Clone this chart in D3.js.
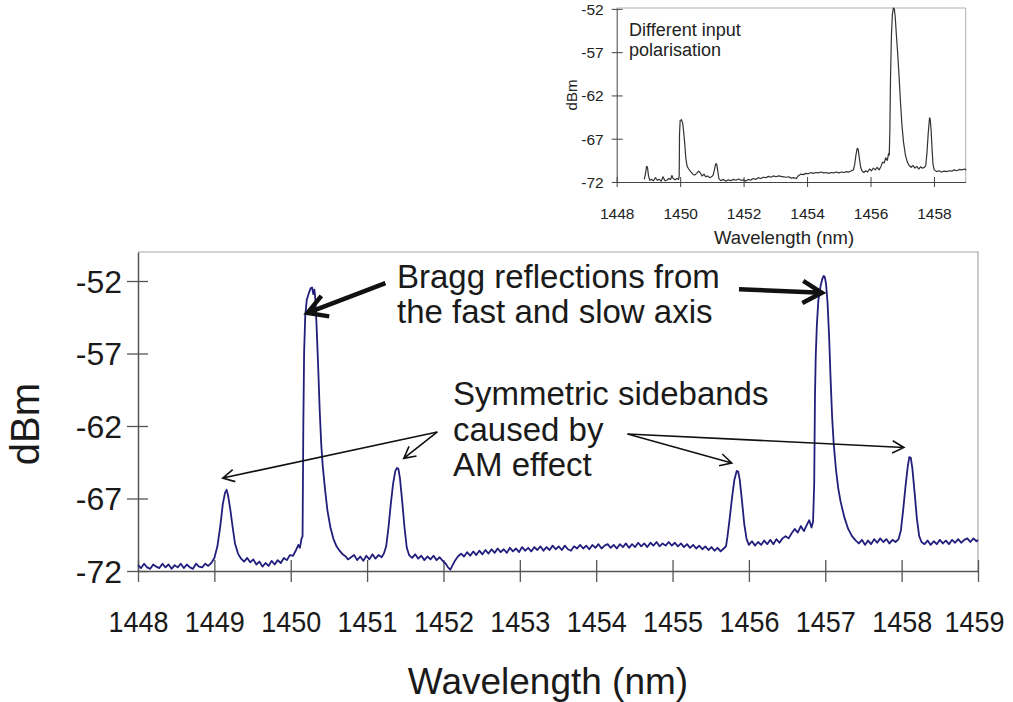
<!DOCTYPE html>
<html>
<head>
<meta charset="utf-8">
<script src="https://cdn.jsdelivr.net/npm/d3@7"></script>
<style>
  body { margin: 0; background: #fff; }
  svg { display: block; font-family: Arial, "Liberation Sans", sans-serif; }
</style>
</head>
<body>
<div id="chart"></div>
<script>
// tick values
const mainXTicks = [1448, 1449, 1450, 1451, 1452, 1453, 1454, 1455, 1456, 1457, 1458, 1459];
const mainYTicks = [-52, -57, -62, -67, -72];
const insetXTicks = [1448, 1450, 1452, 1454, 1456, 1458];
const insetYTicks = [-52, -57, -62, -67, -72];

// main trace, [wavelength nm, dBm]
const mainTrace = [
  [1448.00,-71.60],[1448.04,-71.80],[1448.08,-71.50],[1448.12,-71.75],[1448.16,-71.85],[1448.20,-71.55],
  [1448.24,-71.70],[1448.28,-71.80],[1448.32,-71.50],[1448.36,-71.75],[1448.40,-71.55],[1448.44,-71.85],
  [1448.48,-71.60],[1448.52,-71.75],[1448.56,-71.50],[1448.60,-71.80],[1448.64,-71.55],[1448.68,-71.75],
  [1448.72,-71.85],[1448.76,-71.50],[1448.80,-71.70],[1448.84,-71.75],[1448.88,-71.50],[1448.92,-71.65],
  [1448.96,-71.45],
  [1449.00,-71.1],[1449.04,-70.3],[1449.08,-68.8],[1449.11,-67.4],[1449.14,-66.6],[1449.16,-66.4],
  [1449.18,-66.8],[1449.21,-67.8],[1449.24,-69.0],[1449.27,-70.1],[1449.31,-70.8],[1449.35,-71.15],
  [1449.39,-71.35],[1449.43,-71.10],[1449.47,-71.40],[1449.51,-71.20],[1449.55,-71.55],[1449.59,-71.35],
  [1449.63,-71.70],[1449.67,-71.45],[1449.71,-71.65],[1449.75,-71.30],[1449.79,-71.55],[1449.83,-71.25],
  [1449.87,-71.45],[1449.91,-71.10],[1449.95,-71.25],[1449.99,-70.90],[1450.03,-70.95],[1450.07,-70.55],
  [1450.10,-70.20],[1450.12,-70.40],[1450.14,-69.80],[1450.155,-69.60],
  [1450.165,-62.0],[1450.175,-57.0],[1450.19,-54.4],[1450.21,-53.3],[1450.24,-52.8],[1450.26,-52.5],
  [1450.28,-52.45],[1450.295,-52.9],[1450.31,-52.6],[1450.325,-53.4],[1450.34,-55.3],[1450.36,-58.0],
  [1450.38,-61.0],[1450.40,-63.3],[1450.42,-64.8],[1450.45,-66.4],[1450.48,-67.8],[1450.52,-69.0],
  [1450.56,-69.8],[1450.60,-70.3],[1450.64,-70.6],[1450.68,-70.85],[1450.72,-71.0],[1450.75,-71.2],
  [1450.79,-71.05],[1450.83,-70.90],[1450.87,-71.25],[1450.91,-71.00],[1450.95,-71.30],[1450.99,-70.95],
  [1451.03,-71.20],[1451.07,-70.85],[1451.11,-71.15],[1451.15,-70.90],[1451.19,-71.05],[1451.22,-70.80],
  [1451.25,-70.3],[1451.28,-69.0],[1451.31,-67.4],[1451.34,-66.0],[1451.37,-65.1],[1451.39,-64.9],
  [1451.41,-64.95],[1451.43,-65.6],[1451.46,-67.2],[1451.49,-69.0],[1451.52,-70.4],[1451.55,-70.9],
  [1451.59,-71.10],[1451.63,-70.85],[1451.67,-71.15],[1451.71,-70.95],[1451.75,-71.25],[1451.79,-71.00],
  [1451.83,-71.20],[1451.87,-70.95],[1451.91,-71.25],[1451.95,-71.05],[1451.99,-71.30],[1452.03,-71.50],
  [1452.06,-71.75],[1452.09,-71.90],[1452.12,-71.60],[1452.15,-71.30],[1452.19,-71.00],[1452.23,-70.80],
  [1452.27,-71.00],[1452.31,-70.70],[1452.35,-70.95],[1452.39,-70.65],[1452.43,-70.90],[1452.47,-70.60],
  [1452.51,-70.85],[1452.55,-70.55],[1452.59,-70.80],[1452.63,-70.50],[1452.67,-70.75],[1452.71,-70.45],
  [1452.75,-70.70],[1452.79,-70.50],[1452.83,-70.75],[1452.87,-70.40],[1452.91,-70.65],[1452.95,-70.45],
  [1452.99,-70.70],[1453.03,-70.35],[1453.07,-70.60],[1453.11,-70.40],[1453.15,-70.65],[1453.19,-70.35],
  [1453.23,-70.55],[1453.27,-70.30],[1453.31,-70.60],[1453.35,-70.35],[1453.39,-70.55],[1453.43,-70.25],
  [1453.47,-70.50],[1453.51,-70.30],[1453.55,-70.55],[1453.59,-70.25],[1453.63,-70.50],[1453.67,-70.60],
  [1453.71,-70.30],[1453.75,-70.45],[1453.79,-70.20],[1453.83,-70.45],[1453.87,-70.25],[1453.91,-70.50],
  [1453.95,-70.20],[1453.99,-70.40],[1454.03,-70.15],[1454.07,-70.45],[1454.11,-70.25],[1454.15,-70.15],
  [1454.19,-70.40],[1454.23,-70.20],[1454.27,-70.45],[1454.31,-70.15],[1454.35,-70.35],[1454.39,-70.10],
  [1454.43,-70.40],[1454.47,-70.15],[1454.51,-70.35],[1454.55,-70.05],[1454.59,-70.30],[1454.63,-70.10],
  [1454.67,-70.35],[1454.71,-70.05],[1454.75,-70.25],[1454.79,-70.00],[1454.83,-70.30],[1454.87,-70.10],
  [1454.91,-70.25],[1454.95,-70.00],[1454.99,-70.25],[1455.03,-70.05],[1455.07,-70.30],[1455.11,-70.10],
  [1455.15,-70.35],[1455.19,-70.15],[1455.23,-70.40],[1455.27,-70.20],[1455.31,-70.45],[1455.35,-70.25],
  [1455.39,-70.50],[1455.43,-70.30],[1455.47,-70.55],[1455.51,-70.35],[1455.55,-70.60],[1455.59,-70.40],
  [1455.63,-70.65],[1455.67,-70.45],[1455.70,-70.30],
  [1455.72,-69.6],[1455.75,-68.3],[1455.78,-66.9],[1455.81,-65.7],[1455.84,-65.1],[1455.86,-65.15],
  [1455.88,-65.7],[1455.91,-67.2],[1455.94,-68.8],[1455.97,-69.8],[1456.00,-70.2],
  [1456.04,-69.95],[1456.08,-70.25],[1456.12,-70.00],[1456.16,-70.20],[1456.20,-69.90],[1456.24,-70.15],
  [1456.28,-69.85],[1456.32,-70.15],[1456.36,-69.80],[1456.40,-70.05],[1456.44,-69.75],[1456.48,-69.60],
  [1456.52,-69.75],[1456.56,-69.40],[1456.60,-69.10],[1456.64,-69.35],[1456.68,-68.90],[1456.72,-69.25],
  [1456.76,-68.80],[1456.79,-68.50],[1456.82,-69.00],[1456.84,-68.60],
  [1456.855,-66.0],[1456.865,-60.0],[1456.875,-57.2],[1456.89,-55.0],[1456.91,-53.3],[1456.94,-52.3],
  [1456.965,-51.8],[1456.98,-51.65],[1456.995,-51.75],[1457.01,-52.2],[1457.03,-53.5],[1457.05,-55.8],
  [1457.07,-58.8],[1457.09,-61.4],[1457.11,-63.2],[1457.14,-65.0],[1457.17,-66.3],[1457.20,-67.2],
  [1457.25,-68.3],[1457.30,-69.1],[1457.35,-69.6],[1457.40,-69.9],
  [1457.44,-70.10],[1457.48,-69.85],[1457.52,-70.20],[1457.56,-69.90],[1457.60,-70.15],[1457.64,-69.80],
  [1457.68,-70.05],[1457.72,-69.75],[1457.76,-70.00],[1457.80,-69.80],[1457.84,-70.10],[1457.88,-69.85],
  [1457.92,-70.00],[1457.96,-69.80],
  [1457.99,-69.2],[1458.02,-67.8],[1458.05,-66.2],[1458.08,-64.8],[1458.10,-64.15],[1458.12,-64.2],
  [1458.14,-64.9],[1458.17,-66.6],[1458.20,-68.4],[1458.23,-69.6],[1458.26,-70.0],
  [1458.30,-70.15],[1458.34,-69.90],[1458.38,-70.20],[1458.42,-69.95],[1458.46,-70.15],[1458.50,-69.85],
  [1458.54,-70.10],[1458.58,-69.90],[1458.62,-70.15],[1458.66,-69.85],[1458.70,-70.05],[1458.74,-69.80],
  [1458.78,-70.05],[1458.82,-69.85],[1458.86,-69.75],[1458.90,-70.00],[1458.94,-69.75],[1458.98,-69.95],
  [1459.00,-69.85]
];

// inset trace (different input polarisation)
const insetTrace = [
  [1448.87,-71.7],[1448.91,-71.0],[1448.94,-70.2],[1448.97,-70.3],[1449.00,-71.2],[1449.04,-71.8],
  [1449.10,-71.7],[1449.16,-71.85],[1449.22,-71.5],[1449.28,-71.8],[1449.34,-71.7],[1449.40,-71.9],
  [1449.46,-71.4],[1449.52,-71.85],[1449.58,-71.8],[1449.64,-71.6],[1449.70,-71.7],[1449.74,-71.25],
  [1449.78,-71.6],[1449.84,-71.75],[1449.90,-71.6],[1449.95,-71.7],[1449.97,-71.3],[1449.98,-66.5],
  [1450.00,-64.9],[1450.04,-64.8],[1450.08,-65.2],[1450.11,-66.2],[1450.14,-67.4],[1450.18,-69.3],
  [1450.22,-70.2],[1450.27,-70.5],[1450.33,-70.8],[1450.40,-71.1],[1450.46,-71.2],[1450.52,-71.0],
  [1450.58,-70.75],[1450.63,-70.9],[1450.69,-71.3],[1450.75,-71.1],[1450.81,-71.4],[1450.87,-71.3],
  [1450.93,-71.5],[1450.99,-71.4],[1451.04,-71.2],[1451.08,-70.6],[1451.12,-69.9],[1451.15,-69.9],
  [1451.18,-70.6],[1451.22,-71.6],[1451.28,-71.85],[1451.36,-71.7],[1451.44,-71.9],[1451.52,-71.75],
  [1451.60,-71.85],[1451.68,-71.7],[1451.76,-71.8],[1451.84,-71.65],[1451.92,-71.8],[1452.00,-71.75],
  [1452.06,-71.9],[1452.14,-71.7],[1452.22,-71.8],[1452.30,-71.6],[1452.38,-71.7],[1452.46,-71.5],
  [1452.54,-71.6],[1452.62,-71.45],[1452.70,-71.5],[1452.78,-71.35],[1452.86,-71.45],[1452.94,-71.3],
  [1453.02,-71.4],[1453.10,-71.3],[1453.18,-71.35],[1453.26,-71.4],[1453.34,-71.45],[1453.42,-71.4],
  [1453.50,-71.55],[1453.58,-71.5],[1453.66,-71.6],[1453.72,-71.3],[1453.80,-71.1],[1453.88,-71.15],
  [1453.96,-71.0],[1454.04,-71.05],[1454.12,-70.9],[1454.20,-71.0],[1454.28,-70.9],[1454.36,-70.95],
  [1454.44,-70.85],[1454.52,-70.95],[1454.60,-70.9],[1454.68,-71.0],[1454.76,-70.9],[1454.84,-70.95],
  [1454.92,-70.85],[1455.00,-70.95],[1455.08,-70.85],[1455.16,-70.9],[1455.24,-70.8],[1455.32,-70.85],
  [1455.40,-70.7],[1455.46,-70.6],[1455.50,-70.0],[1455.54,-68.9],[1455.58,-68.1],[1455.61,-68.2],
  [1455.65,-69.3],[1455.69,-70.3],[1455.73,-70.7],[1455.79,-70.9],[1455.85,-70.7],[1455.91,-70.85],
  [1455.97,-70.5],[1456.03,-70.7],[1456.09,-70.4],[1456.15,-70.6],[1456.21,-70.3],[1456.27,-70.6],
  [1456.33,-70.2],[1456.38,-69.7],[1456.43,-69.8],[1456.48,-69.2],[1456.53,-69.5],[1456.57,-68.7],
  [1456.59,-68.9],[1456.61,-66.0],[1456.63,-60.0],[1456.66,-55.0],[1456.69,-52.6],[1456.72,-51.9],
  [1456.75,-52.0],[1456.78,-53.0],[1456.82,-55.3],[1456.85,-56.8],[1456.90,-59.8],[1456.94,-62.5],
  [1456.99,-65.4],[1457.04,-67.4],[1457.10,-68.9],[1457.16,-69.7],[1457.22,-70.1],[1457.28,-70.3],
  [1457.34,-70.1],[1457.40,-70.4],[1457.46,-70.2],[1457.52,-70.5],[1457.58,-70.25],[1457.64,-70.4],
  [1457.70,-70.3],[1457.74,-70.1],[1457.78,-68.6],[1457.82,-66.3],[1457.86,-64.6],[1457.88,-64.7],
  [1457.91,-66.0],[1457.94,-68.2],[1457.97,-70.0],[1458.01,-70.6],[1458.08,-70.8],[1458.16,-70.7],
  [1458.24,-70.85],[1458.32,-70.75],[1458.40,-70.8],[1458.48,-70.7],[1458.56,-70.75],[1458.64,-70.6],
  [1458.72,-70.7],[1458.80,-70.55],[1458.88,-70.6],[1458.96,-70.5],[1459.02,-70.6]
];

// annotation arrows in data coordinates [nm, dBm]
const thickArrows = [
  { from: [1451.24, -52.14], to: [1450.22, -54.20] },
  { from: [1455.87, -52.57], to: [1456.955, -52.81] }
];
const thinArrows = [
  { from: [1451.92, -62.41], to: [1449.11, -65.59] },
  { from: [1451.92, -62.41], to: [1451.48, -64.23] },
  { from: [1454.41, -62.55], to: [1455.775, -64.55] },
  { from: [1454.41, -62.55], to: [1458.03, -63.48] }
];
const braggText = ["Bragg reflections from", "the fast and slow axis"];
const sidebandText = ["Symmetric sidebands", "caused by", "AM effect"];
const insetText = ["Different input", "polarisation"];

const width = 1013, height = 702;
const fontFam = "Arial, 'Liberation Sans', sans-serif";
const svg = d3.select("#chart").append("svg")
  .attr("width", width)
  .attr("height", height);

// ---------- main chart ----------
const x = d3.scaleLinear().domain([1448, 1459]).range([138, 978]);
const y = d3.scaleLinear().domain([-72, -50]).range([571, 252]);

// frame (top + right light grey)
svg.append("path")
  .attr("d", `M${x(1448)},${y(-50)}H${x(1459)}V${y(-72)}`)
  .attr("fill", "none")
  .attr("stroke", "#a8a8a8")
  .attr("stroke-width", 1.2);

const xAxis = svg.append("g")
  .attr("transform", `translate(0,${y(-72)})`)
  .call(d3.axisBottom(x).tickValues(mainXTicks).tickFormat(d => String(d)).tickSizeOuter(0));
xAxis.select(".domain").attr("stroke", "#555").attr("stroke-width", 1.5);
xAxis.selectAll(".tick line").attr("y1", -11).attr("y2", 11).attr("stroke", "#555").attr("stroke-width", 1.3);
xAxis.selectAll(".tick text")
  .attr("y", 40).attr("dy", "0.71em")
  .attr("dx", d => d === 1459 ? -4 : 0)
  .attr("font-size", 30).attr("fill", "#1a1a1a")
  .attr("font-family", fontFam)
  .attr("textLength", 60).attr("lengthAdjust", "spacingAndGlyphs");

const yAxis = svg.append("g")
  .attr("transform", `translate(${x(1448)},0)`)
  .call(d3.axisLeft(y).tickValues(mainYTicks).tickFormat(d => String(d)).tickSizeOuter(0));
yAxis.select(".domain").attr("stroke", "#555").attr("stroke-width", 1.5);
yAxis.selectAll(".tick line").attr("x1", -11).attr("x2", 10).attr("stroke", "#555").attr("stroke-width", 1.3);
yAxis.selectAll(".tick text")
  .attr("x", -16).attr("dy", "0.35em")
  .attr("font-size", 32).attr("fill", "#1a1a1a")
  .attr("font-family", fontFam);

svg.append("text")
  .attr("x", 548).attr("y", 694)
  .attr("text-anchor", "middle")
  .attr("font-size", 37).attr("fill", "#1a1a1a")
  .text("Wavelength (nm)");

svg.append("text")
  .attr("transform", "translate(39,424) rotate(-90)")
  .attr("text-anchor", "middle")
  .attr("font-size", 40).attr("fill", "#1a1a1a")
  .text("dBm");

const line = d3.line().x(d => x(d[0])).y(d => y(d[1]));
svg.append("path")
  .datum(mainTrace)
  .attr("d", line)
  .attr("fill", "none")
  .attr("stroke", "#221e7c")
  .attr("stroke-width", 1.8)
  .attr("stroke-linejoin", "round");

// arrows
function arrowPath(a, head, ang) {
  const x1 = x(a.from[0]), y1 = y(a.from[1]);
  const x2 = x(a.to[0]), y2 = y(a.to[1]);
  const t = Math.atan2(y1 - y2, x1 - x2);
  const r = ang * Math.PI / 180;
  const p1 = [x2 + head * Math.cos(t + r), y2 + head * Math.sin(t + r)];
  const p2 = [x2 + head * Math.cos(t - r), y2 + head * Math.sin(t - r)];
  return `M${x1},${y1}L${x2},${y2}M${p1[0]},${p1[1]}L${x2},${y2}L${p2[0]},${p2[1]}`;
}

svg.append("g").selectAll("path")
  .data(thickArrows)
  .join("path")
  .attr("d", d => arrowPath(d, 22, 30))
  .attr("fill", "none")
  .attr("stroke", "#111")
  .attr("stroke-width", 4.5)
  .attr("stroke-linejoin", "miter");

svg.append("g").selectAll("path")
  .data(thinArrows)
  .join("path")
  .attr("d", d => arrowPath(d, 13, 28))
  .attr("fill", "none")
  .attr("stroke", "#111")
  .attr("stroke-width", 1.6);

svg.append("g").selectAll("text")
  .data(braggText)
  .join("text")
  .attr("x", 397).attr("y", (d, i) => 288 + i * 35)
  .attr("font-size", 33).attr("fill", "#1a1a1a")
  .text(d => d);

svg.append("g").selectAll("text")
  .data(sidebandText)
  .join("text")
  .attr("x", 453).attr("y", (d, i) => 405 + i * 35.5)
  .attr("font-size", 33).attr("fill", "#1a1a1a")
  .text(d => d);

// ---------- inset ----------
const xi = d3.scaleLinear().domain([1448, 1459]).range([616.7, 965.7]);
const yi = d3.scaleLinear().domain([-72, -51.9]).range([182, 8]);

svg.append("path")
  .attr("d", `M${xi(1448)},${yi(-51.9)}H${xi(1459)}V${yi(-72)}`)
  .attr("fill", "none")
  .attr("stroke", "#b0b0b0")
  .attr("stroke-width", 1);

const xiAxis = svg.append("g")
  .attr("transform", `translate(0,${yi(-72)})`)
  .call(d3.axisBottom(xi).tickValues(insetXTicks).tickFormat(d => String(d)).tickSizeOuter(0));
xiAxis.select(".domain").attr("stroke", "#444").attr("stroke-width", 1);
xiAxis.selectAll(".tick line").attr("y1", -5).attr("y2", 5).attr("stroke", "#444");
xiAxis.selectAll(".tick text")
  .attr("y", 37).attr("dy", "0")
  .attr("font-size", 15.5).attr("fill", "#222")
  .attr("font-family", fontFam);

const yiAxis = svg.append("g")
  .attr("transform", `translate(${xi(1448)},0)`)
  .call(d3.axisLeft(yi).tickValues(insetYTicks).tickFormat(d => String(d)).tickSizeOuter(0));
yiAxis.select(".domain").attr("stroke", "#444").attr("stroke-width", 1);
yiAxis.selectAll(".tick line").attr("x1", -5).attr("x2", 6).attr("stroke", "#444");
yiAxis.selectAll(".tick text")
  .attr("x", -13).attr("dy", "0.35em")
  .attr("font-size", 15.5).attr("fill", "#222")
  .attr("font-family", fontFam);

svg.append("text")
  .attr("x", 784).attr("y", 244)
  .attr("text-anchor", "middle")
  .attr("font-size", 18.5).attr("fill", "#222")
  .text("Wavelength (nm)");

svg.append("text")
  .attr("transform", "translate(577,95) rotate(-90)")
  .attr("text-anchor", "middle")
  .attr("font-size", 15).attr("fill", "#222")
  .text("dBm");

svg.append("g").selectAll("text")
  .data(insetText)
  .join("text")
  .attr("x", 629).attr("y", (d, i) => 36 + i * 20)
  .attr("font-size", 18).attr("fill", "#222")
  .text(d => d);

const lineInset = d3.line().x(d => xi(d[0])).y(d => yi(d[1]));
svg.append("path")
  .datum(insetTrace)
  .attr("d", lineInset)
  .attr("fill", "none")
  .attr("stroke", "#333")
  .attr("stroke-width", 1.2)
  .attr("stroke-linejoin", "round");
</script>
</body>
</html>
